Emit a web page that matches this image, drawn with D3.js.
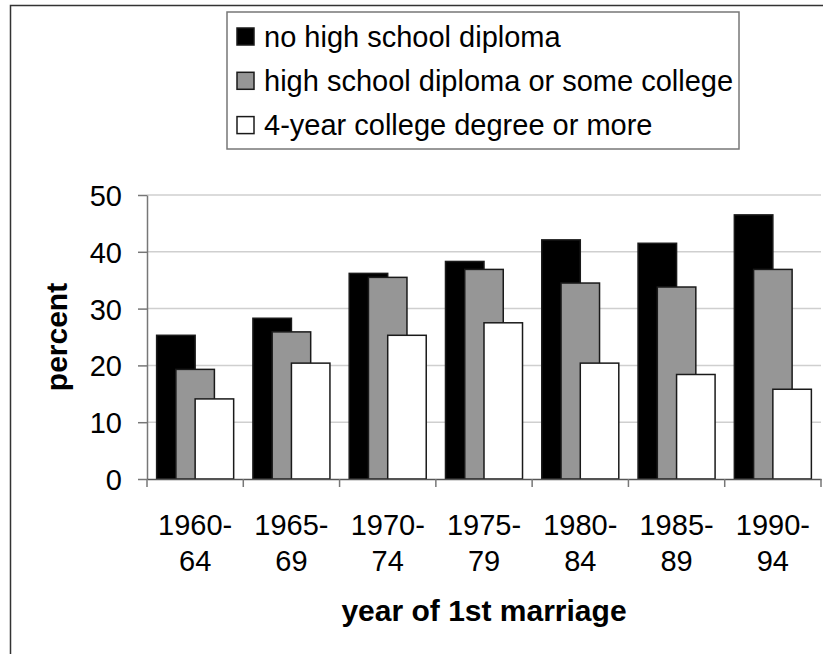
<!DOCTYPE html>
<html lang="en">
<head>
<meta charset="utf-8">
<script src="https://d3js.org/d3.v7.min.js"></script>
<style type="text/css">
body {
	margin: 0;
	background: white;
}
text {
	font-family: "Liberation Sans", Arial, Helvetica, sans-serif;
	fill: #000;
}
.grid line {
	stroke: #cfcfcf;
	stroke-width: 1.5;
}
</style>
</head>
<body>
<svg id="chart"></svg>
<script type="text/javascript">

	// values (percent)
	var periods = ["1960-64", "1965-69", "1970-74", "1975-79", "1980-84", "1985-89", "1990-94"];
	var labelTop = ["1960-", "1965-", "1970-", "1975-", "1980-", "1985-", "1990-"];
	var labelBottom = ["64", "69", "74", "79", "84", "89", "94"];
	var seriesNames = ["no high school diploma", "high school diploma or some college", "4-year college degree or more"];
	var noDiploma = [25.3, 28.3, 36.2, 38.3, 42.1, 41.5, 46.5];
	var someCollege = [19.3, 25.9, 35.5, 36.9, 34.5, 33.8, 36.9];
	var collegeDegree = [14.1, 20.4, 25.3, 27.5, 20.4, 18.4, 15.8];
	var yTicks = [0, 10, 20, 30, 40, 50];
	var fills = ["#000000", "#969696", "#ffffff"];

	var width = 823, height = 654;
	var series = [noDiploma, someCollege, collegeDegree];

	var svg = d3.select("#chart")
		.attr("width", width)
		.attr("height", height);

	// outer frame (right and bottom edges are cut off)
	svg.append("path")
		.attr("d", "M10.5," + height + "V5.5H" + width)
		.attr("fill", "none")
		.attr("stroke", "#333")
		.attr("stroke-width", 1.5);

	var x = d3.scaleBand()
		.domain(periods)
		.range([147, 821]);

	var y = d3.scaleLinear()
		.domain([0, 50])
		.range([479, 195]);

	// bars overlap inside each group
	var barW = x.bandwidth() * 0.4;
	var offset = d3.scalePoint()
		.domain(seriesNames)
		.range([0, x.bandwidth() * 0.4]);
	var groupLeft = (x.bandwidth() - (offset.range()[1] + barW)) / 2;

	// gridlines
	svg.append("g")
		.attr("class", "grid")
		.selectAll("line")
		.data(yTicks.slice(1))
		.join("line")
		.attr("x1", x.range()[0])
		.attr("x2", x.range()[1])
		.attr("y1", d => y(d))
		.attr("y2", d => y(d));

	// bars, one series at a time so later series sit on top
	series.forEach(function(vals, i) {
		svg.append("g")
			.selectAll("rect")
			.data(vals)
			.join("rect")
			.attr("x", (d, j) => x(periods[j]) + groupLeft + offset(seriesNames[i]))
			.attr("y", d => y(d))
			.attr("width", barW)
			.attr("height", d => y(0) - y(d))
			.attr("fill", fills[i])
			.attr("stroke", "#1a1a1a")
			.attr("stroke-width", 1.5);
	});

	// y axis
	var yAxis = svg.append("g")
		.attr("transform", "translate(" + x.range()[0] + ",0)")
		.call(d3.axisLeft(y).tickValues(yTicks).tickSize(9).tickPadding(16).tickSizeOuter(0));
	yAxis.select(".domain").attr("stroke", "#777").attr("stroke-width", 1.5);
	yAxis.selectAll(".tick line").attr("stroke", "#777").attr("stroke-width", 1.5);
	yAxis.selectAll(".tick text")
		.attr("font-size", 29)
		.attr("font-family", "Liberation Sans, Arial, sans-serif")
		.attr("dy", "0.36em");

	// x axis: labels centred on groups, ticks on group boundaries
	var xAxis = svg.append("g")
		.attr("transform", "translate(0," + y(0) + ")")
		.call(d3.axisBottom(x).tickSize(0).tickSizeOuter(0));
	xAxis.select(".domain").attr("stroke", "#555").attr("stroke-width", 1.5);
	xAxis.selectAll(".tick text").each(function(d, i) {
		var t = d3.select(this).text(null)
			.attr("font-size", 29)
			.attr("font-family", "Liberation Sans, Arial, sans-serif")
			.attr("y", 0).attr("dy", null);
		t.append("tspan").attr("x", 0).attr("y", 56).text(labelTop[i]);
		t.append("tspan").attr("x", 0).attr("y", 92).text(labelBottom[i]);
	});
	xAxis.selectAll(".bound")
		.data(periods.map(p => x(p)).concat([x.range()[1]]))
		.join("line")
		.attr("class", "bound")
		.attr("x1", d => d).attr("x2", d => d)
		.attr("y1", 0).attr("y2", 8)
		.attr("stroke", "#777")
		.attr("stroke-width", 1.5);

	// axis titles
	svg.append("text")
		.attr("transform", "translate(67," + (y(25)) + ") rotate(-90)")
		.attr("text-anchor", "middle")
		.attr("font-size", 30)
		.attr("font-weight", "bold")
		.text("percent");

	svg.append("text")
		.attr("x", (x.range()[0] + x.range()[1]) / 2)
		.attr("y", 621)
		.attr("text-anchor", "middle")
		.attr("font-size", 30)
		.attr("font-weight", "bold")
		.text("year of 1st marriage");

	// legend
	var legend = svg.append("g");
	legend.append("rect")
		.attr("x", 227).attr("y", 12)
		.attr("width", 512).attr("height", 137)
		.attr("fill", "white")
		.attr("stroke", "#777")
		.attr("stroke-width", 1.5);
	var rows = legend.selectAll(".row")
		.data(seriesNames)
		.join("g")
		.attr("class", "row")
		.attr("transform", (d, i) => "translate(237," + (28 + i * 44.3) + ")");
	rows.append("rect")
		.attr("width", 17).attr("height", 17)
		.attr("fill", (d, i) => fills[i])
		.attr("stroke", "#1a1a1a")
		.attr("stroke-width", 1.5);
	rows.append("text")
		.attr("x", 27)
		.attr("y", 18.5)
		.attr("font-size", 29)
		.text(d => d);

</script>
</body>
</html>
